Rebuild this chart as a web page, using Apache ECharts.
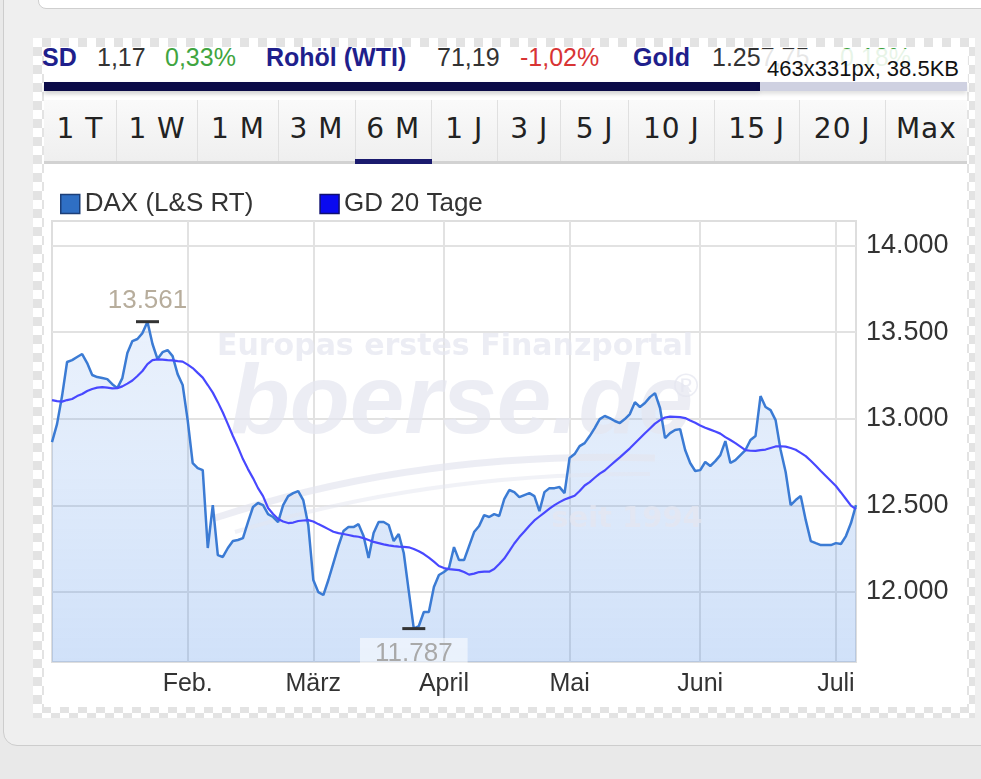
<!DOCTYPE html>
<html>
<head>
<meta charset="utf-8">
<script src="https://cdn.jsdelivr.net/npm/echarts@6/dist/echarts.min.js"></script>
<style>
  html, body { margin:0; padding:0; width:981px; height:779px; overflow:hidden; background:#e9e9e9; font-family:"Liberation Sans", Arial, sans-serif; }
  .abs { position:absolute; }
  #card { left:3px; top:-20px; width:1000px; height:764px; background:#efefef; border:1px solid #cdcdcd; border-radius:14px; }
  #topcard { left:38px; top:-12px; width:960px; height:19px; background:#fff; border:1px solid #cfcfcf; border-radius:8px; }
  #checker { left:33px; top:38px; width:942px; height:680px; background-color:#fff;
     background-image:repeating-conic-gradient(#e3e3e3 0 25%, #ffffff 0 50%); background-size:18px 18px; }
  #white { left:44px; top:47px; width:923px; height:660px; background:#fff; }
  .tk { position:absolute; top:45px; font-size:25px; line-height:25px; white-space:nowrap; color:#333; }
  .nv { color:#1f1f8c; font-weight:bold; }
  .gr { color:#3fa53f; }
  .rd { color:#d83434; }
  #overlay { left:762px; top:49px; width:206px; height:40px; background:rgba(255,255,255,0.88); color:#111; font-size:22px; line-height:40px; padding-left:5px; box-sizing:border-box; white-space:nowrap; }
  #bar1 { left:44px; top:82px; width:716px; height:9px; background:#0b0b48; box-shadow:0 3px 4px rgba(0,0,0,0.18); }
  #bar2 { left:760px; top:82px; width:207px; height:9px; background:#cfd1e1; box-shadow:0 3px 4px rgba(0,0,0,0.12); }
  #tabs { left:44px; top:100px; width:923px; height:61px; background:linear-gradient(#fafafa,#efefef); border-bottom:3px solid #d2d2d2; }
  .tab { position:absolute; top:0; height:61px; line-height:58px; text-align:center; font-family:"DejaVu Sans", Verdana, sans-serif; font-size:28px; letter-spacing:1px; color:#222; border-right:1px solid #e0e0e0; box-sizing:border-box; }
  #active { left:355px; top:159px; width:77px; height:5px; background:#1a1a6e; }
  #chart { left:0; top:0; width:981px; height:779px; }
</style>
</head>
<body>
<div id="card" class="abs"></div>
<div id="topcard" class="abs"></div>
<div id="checker" class="abs"></div>
<div id="white" class="abs"></div>

<span class="tk nv" style="left:42px">SD</span>
<span class="tk" style="left:97px">1,17</span>
<span class="tk gr" style="left:165px">0,33%</span>
<span class="tk nv" style="left:266px">Rohöl (WTI)</span>
<span class="tk" style="left:437px">71,19</span>
<span class="tk rd" style="left:520px">-1,02%</span>
<span class="tk nv" style="left:633px">Gold</span>
<span class="tk" style="left:712px">1.257,75</span>
<span class="tk gr" style="left:840px">0,18%</span>
<div id="overlay" class="abs">463x331px, 38.5KB</div>
<div id="bar1" class="abs"></div>
<div id="bar2" class="abs"></div>
<div id="tabs" class="abs"></div>
<div id="active" class="abs"></div>
<div id="chart" class="abs"></div>

<script>
// ---------- data ----------
const tabLabels = ['1 T','1 W','1 M','3 M','6 M','1 J','3 J','5 J','10 J','15 J','20 J','Max'];
const tabEdges  = [0, 72.7, 154.5, 234.5, 311.5, 387.8, 453.9, 517.5, 584.8, 670.8, 755.7, 841.8, 923];

const seriesNames = ['DAX (L&S RT)', 'GD 20 Tage'];
const monthLabels = ['Feb.', 'März', 'April', 'Mai', 'Juni', 'Juli'];
const monthStartIdx = [27, 52, 78, 103, 129, 156];
const yTicks = [12000, 12500, 13000, 13500, 14000];

const daxValues = [
 12865,12969,13131,13328,13339,13357,13374,13322,13253,13241,
 13235,13229,13200,13177,13235,13380,13449,13461,13495,13561,
 13432,13345,13385,13397,13362,13258,13195,12992,12744,12715,
 12703,12253,12501,12212,12201,12253,12293,12299,12310,12403,
 12490,12513,12501,12449,12432,12403,12501,12553,12570,12582,
 12530,12386,12068,11998,11981,12068,12166,12264,12351,12374,
 12374,12391,12322,12195,12339,12403,12403,12386,12293,12334,
 12224,12004,11787,11802,11883,11883,12027,12097,12114,12137,
 12258,12183,12183,12264,12345,12380,12443,12432,12449,12438,
 12536,12588,12576,12547,12559,12570,12553,12466,12576,12599,
 12599,12605,12570,12773,12796,12842,12859,12900,12946,12998,
 13016,13004,12987,12975,12998,13027,13096,13068,13091,13125,
 13148,13062,12888,12917,12935,12940,12819,12744,12698,12703,
 12750,12727,12755,12790,12871,12744,12761,12790,12819,12877,
 12900,13131,13068,13050,12992,12819,12692,12501,12530,12553,
 12414,12293,12281,12270,12270,12270,12281,12276,12322,12397,
 12501
];
const gd20Values = [
 13108,13102,13099,13108,13114,13131,13143,13160,13172,13180,
 13183,13180,13176,13177,13187,13203,13221,13247,13276,13316,
 13339,13343,13342,13339,13337,13333,13330,13313,13293,13265,
 13238,13195,13151,13096,13036,12969,12900,12836,12767,12709,
 12657,12599,12553,12484,12449,12420,12406,12397,12400,12409,
 12412,12414,12406,12391,12377,12362,12347,12339,12334,12328,
 12322,12318,12310,12299,12288,12281,12274,12268,12264,12261,
 12259,12257,12247,12234,12218,12197,12174,12149,12137,12131,
 12128,12125,12114,12099,12105,12114,12116,12116,12131,12160,
 12192,12235,12279,12316,12348,12382,12412,12435,12458,12480,
 12501,12518,12533,12544,12555,12582,12614,12634,12659,12683,
 12701,12727,12752,12777,12803,12829,12858,12887,12916,12944,
 12972,12992,13007,13012,13011,13009,13004,12990,12977,12961,
 12948,12937,12926,12914,12894,12877,12859,12839,12819,12815,
 12814,12819,12822,12831,12840,12841,12839,12831,12821,12803,
 12784,12757,12728,12698,12669,12640,12611,12574,12536,12498,
 12478
];

// ---------- tabs (html) ----------
const tabsEl = document.getElementById('tabs');
tabLabels.forEach((t, i) => {
  const d = document.createElement('div');
  d.className = 'tab';
  d.style.left = tabEdges[i] + 'px';
  d.style.width = (tabEdges[i+1] - tabEdges[i]) + 'px';
  if (i === tabLabels.length - 1) d.style.borderRight = 'none';
  d.textContent = t;
  tabsEl.appendChild(d);
});

// ---------- chart ----------
const categories = daxValues.map((_, i) => {
  const k = monthStartIdx.indexOf(i);
  return k >= 0 ? monthLabels[k] : String(i);
});
const fmt = v => String(Math.round(v)).replace(/\B(?=(\d{3})+(?!\d))/g, '.');
const isMonth = i => monthStartIdx.indexOf(i) >= 0;
const FONT = '"Liberation Sans", Arial, sans-serif';
const wm = 'rgba(228,230,240,0.72)';

const chart = echarts.init(document.getElementById('chart'), null, {renderer: 'canvas'});
chart.setOption({
  animation: false,
  textStyle: { fontFamily: FONT },
  legend: {
    left: 55, top: 186, itemWidth: 19, itemHeight: 19, itemGap: 66,
    textStyle: { fontSize: 26, color: '#333', fontFamily: FONT },
    data: [
      { name: seriesNames[0], icon: 'rect', itemStyle: { color: '#2f6fc4', borderColor: '#1c3f78', borderWidth: 1.5 } },
      { name: seriesNames[1], icon: 'rect', itemStyle: { color: '#0a0af0', borderColor: '#101070', borderWidth: 1.5 } }
    ]
  },
  grid: { left: 52, top: 221, width: 804, height: 441, show: true, borderColor: '#dedede', borderWidth: 2, backgroundColor: 'transparent' },
  xAxis: {
    type: 'category', data: categories, boundaryGap: false,
    axisLine: { show: false }, axisTick: { show: false },
    axisLabel: { interval: (i) => isMonth(i), margin: 10, fontSize: 25, color: '#333', fontFamily: FONT },
    splitLine: { show: true, interval: (i) => isMonth(i), lineStyle: { color: '#e2e2e2', width: 2 } }
  },
  yAxis: {
    type: 'value', position: 'right', min: 11594, max: 14143,
    axisLine: { show: false },
    axisTick: { show: false, customValues: yTicks },
    axisLabel: { customValues: yTicks, formatter: fmt, margin: 10, fontSize: 27, color: '#333', fontFamily: FONT },
    splitLine: { show: true, lineStyle: { color: '#e2e2e2', width: 2 } }
  },
  graphic: [
    { type: 'text', x: 455, y: 347, z: 2, silent: true,
      style: { text: 'Europas erstes Finanzportal', fill: wm, font: 'bold 30px "DejaVu Sans", sans-serif', align: 'center', verticalAlign: 'middle' } },
    { type: 'text', x: 230, y: 406, z: 2, silent: true,
      style: { text: 'boerse.de', fill: wm, font: 'italic bold 98px "Liberation Sans", Arial, sans-serif', align: 'left', verticalAlign: 'middle' } },
    { type: 'text', x: 686, y: 388, z: 2, silent: true,
      style: { text: '®', fill: wm, font: '34px "Liberation Sans", Arial, sans-serif', align: 'center', verticalAlign: 'middle' } },
    { type: 'text', x: 627, y: 519, z: 2, silent: true,
      style: { text: 'seit 1994', fill: wm, font: 'bold 29px "DejaVu Sans", sans-serif', align: 'center', verticalAlign: 'middle' } },
    { type: 'bezierCurve', z: 2, silent: true, shape: { x1: 215, y1: 518, cpx1: 420, cpy1: 450, x2: 655, y2: 458 },
      style: { fill: null, stroke: 'rgba(228,230,240,0.7)', lineWidth: 7 } },
    { type: 'bezierCurve', z: 2, silent: true, shape: { x1: 235, y1: 532, cpx1: 430, cpy1: 472, x2: 650, y2: 474 },
      style: { fill: null, stroke: 'rgba(228,230,240,0.5)', lineWidth: 4 } }
  ],
  series: [
    {
      name: seriesNames[0], type: 'line', data: daxValues, z: 1,
      symbol: 'none', lineStyle: { width: 0, opacity: 0 },
      areaStyle: { color: { type: 'linear', x: 0, y: 0, x2: 0, y2: 1, colorStops: [
        { offset: 0, color: 'rgba(60,130,230,0.15)' },
        { offset: 1, color: 'rgba(60,130,230,0.34)' }
      ] } },
      silent: true
    },
    {
      name: seriesNames[0], type: 'line', data: daxValues, z: 3,
      symbol: 'none', lineStyle: { color: '#3b7bd4', width: 2.5 },
      itemStyle: { color: '#2f6fc4' },
      markPoint: {
        symbol: 'rect', symbolSize: [23, 3], silent: true,
        itemStyle: { color: '#333' },
        data: [
          { type: 'max', label: { show: true, position: 'top', distance: 6, formatter: p => fmt(p.value),
              fontSize: 26, color: '#b7ad9c', fontFamily: FONT } },
          { type: 'min', label: { show: true, position: 'bottom', distance: 8, formatter: p => fmt(p.value),
              fontSize: 26, color: '#a9a9a9', fontFamily: FONT, backgroundColor: 'rgba(255,255,255,0.55)',
              padding: [3, 15, 1, 15], lineHeight: 26 } }
        ]
      }
    },
    {
      name: seriesNames[1], type: 'line', data: gd20Values, z: 4,
      symbol: 'none', lineStyle: { color: '#4848ff', width: 2.2 },
      itemStyle: { color: '#0a0af0' }
    }
  ]
});
</script>
</body>
</html>
